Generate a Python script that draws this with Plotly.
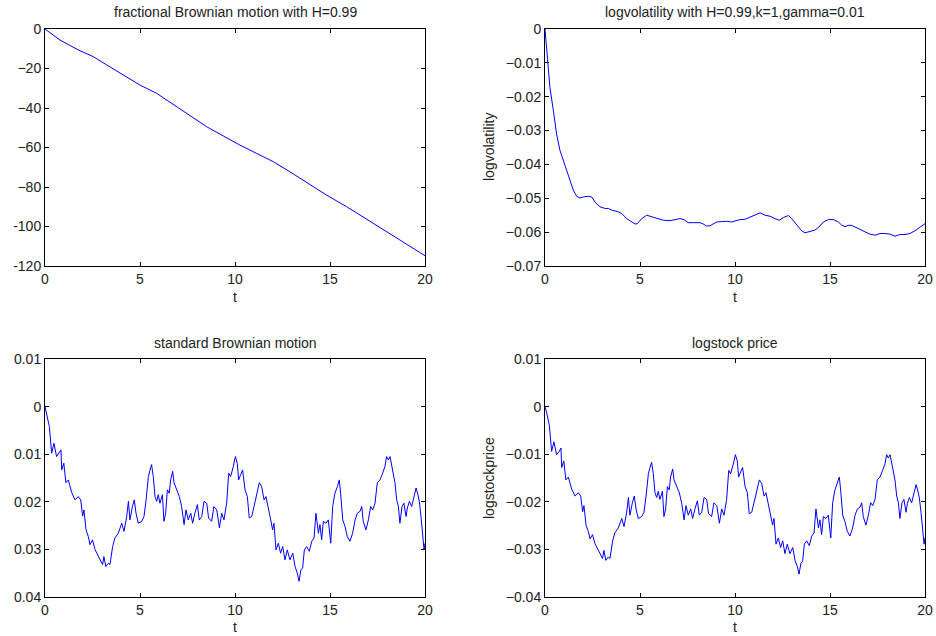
import plotly.graph_objects as go

# ---------------- data ----------------
fbm_t = [0, 0.79, 1.75, 2.54, 3.25, 4.12, 5.0, 5.88, 6.75, 7.63, 8.51, 9.39, 10.26,
         11.14, 12.02, 12.89, 13.77, 14.82, 15.88, 16.58, 17.28, 18.16, 19.04, 20.0]
fbm_v = [0, -5.6, -10.6, -14.0, -18.2, -23.3, -28.4, -32.6, -38.2, -43.9, -49.5,
         -54.2, -58.8, -63.0, -67.2, -72.3, -77.7, -84.1, -90.0, -94.2, -98.4,
         -103.5, -108.9, -114.8]

vol_t = [0, 0.05, 0.12, 0.26, 0.44, 0.61, 0.79, 0.96, 1.14, 1.32, 1.49, 1.67, 1.84,
         2.02, 2.28, 2.46, 2.63, 2.89, 3.16, 3.33, 3.51, 3.86, 4.04, 4.3, 4.56, 4.74,
         4.86, 5.09, 5.35, 5.61, 5.88, 6.23, 6.58, 6.84, 7.11, 7.32, 7.54, 7.81, 8.16,
         8.33, 8.51, 8.68, 8.86, 9.04, 9.3, 9.56, 9.82, 10.0, 10.26, 10.53, 10.79,
         11.05, 11.32, 11.58, 11.84, 12.11, 12.33, 12.54, 12.81, 12.98, 13.25, 13.51,
         13.68, 13.95, 14.21, 14.47, 14.65, 14.91, 15.18, 15.44, 15.61, 15.79, 15.96,
         16.14, 16.32, 16.58, 16.84, 17.11, 17.37, 17.63, 17.89, 18.16, 18.42, 18.68,
         18.95, 19.21, 19.47, 19.74, 20.0]
vol_v = [0, -0.0035, -0.0094, -0.0173, -0.0241, -0.031, -0.0359, -0.0388, -0.0418,
         -0.0447, -0.0476, -0.0494, -0.0499, -0.0496, -0.0494, -0.0496, -0.0511,
         -0.0525, -0.053, -0.053, -0.0535, -0.054, -0.0545, -0.056, -0.057, -0.0576,
         -0.0575, -0.056, -0.055, -0.0555, -0.056, -0.0565, -0.0566, -0.0563, -0.056,
         -0.0563, -0.0572, -0.0572, -0.0572, -0.0576, -0.0582, -0.0581, -0.0576,
         -0.057, -0.0569, -0.0568, -0.057, -0.0567, -0.0563, -0.0562, -0.0555, -0.055,
         -0.0543, -0.055, -0.0553, -0.056, -0.0565, -0.0557, -0.0551, -0.056, -0.0579,
         -0.0596, -0.0602, -0.0599, -0.0594, -0.0582, -0.057, -0.0563, -0.0563,
         -0.057, -0.0579, -0.0584, -0.058, -0.058, -0.0584, -0.0592, -0.0599, -0.0606,
         -0.0609, -0.0604, -0.0604, -0.0606, -0.0612, -0.0607, -0.0607, -0.0604,
         -0.0596, -0.0586, -0.0575]

bm_t = [0, 0.09, 0.23, 0.35, 0.47, 0.61, 0.75, 0.84, 0.88, 0.99, 1.10, 1.23, 1.40,
        1.58, 1.75, 1.88, 1.98, 2.05, 2.16, 2.28, 2.37, 2.50, 2.63, 2.75, 2.90, 3.03,
        3.10, 3.20, 3.33, 3.42, 3.56, 3.68, 3.86, 4.04, 4.16, 4.30, 4.39, 4.47, 4.60,
        4.70, 4.79, 4.91, 5.09, 5.21, 5.32, 5.44, 5.53, 5.61, 5.70, 5.79, 5.88, 5.96,
        6.05, 6.18, 6.26, 6.35, 6.44, 6.54, 6.61, 6.72, 6.79, 6.93, 7.07, 7.19, 7.32,
        7.42, 7.54, 7.67, 7.77, 7.89, 8.02, 8.12, 8.25, 8.37, 8.51, 8.61, 8.77, 8.89,
        9.04, 9.18, 9.30, 9.42, 9.56, 9.67, 9.77, 9.91, 10.02, 10.12, 10.19, 10.30,
        10.40, 10.53, 10.65, 10.75, 10.88, 11.00, 11.14, 11.28, 11.40, 11.53, 11.63,
        11.75, 11.88, 11.98, 12.05, 12.16, 12.28, 12.40, 12.51, 12.63, 12.75, 12.89,
        13.04, 13.16, 13.28, 13.37, 13.47, 13.56, 13.65, 13.77, 13.91, 14.04, 14.16,
        14.26, 14.39, 14.47, 14.56, 14.65, 14.79, 14.91, 15.04, 15.14, 15.26, 15.39,
        15.49, 15.56, 15.67, 15.79, 15.91, 16.05, 16.19, 16.32, 16.44, 16.58, 16.67,
        16.75, 16.89, 17.02, 17.14, 17.25, 17.37, 17.49, 17.63, 17.77, 17.89, 17.98,
        18.07, 18.16, 18.25, 18.33, 18.42, 18.51, 18.60, 18.68, 18.79, 18.89, 19.00,
        19.07, 19.18, 19.30, 19.42, 19.53, 19.61, 19.70, 19.79, 19.88, 19.95, 20.00]
bm_v = [0.0, -0.0014, -0.0042, -0.0098, -0.0077, -0.0105, -0.0098, -0.0091, -0.0133,
        -0.0119, -0.0160, -0.0154, -0.0180, -0.0196, -0.0189, -0.0196, -0.0230,
        -0.0217, -0.0259, -0.0273, -0.0290, -0.0280, -0.0300, -0.0310, -0.0320,
        -0.0332, -0.0315, -0.0336, -0.0329, -0.0332, -0.0294, -0.0276, -0.0266,
        -0.0245, -0.0262, -0.0231, -0.0199, -0.0238, -0.0210, -0.0196, -0.0224,
        -0.0245, -0.0241, -0.0231, -0.0196, -0.0147, -0.0133, -0.0122, -0.0147,
        -0.0189, -0.0199, -0.0185, -0.0203, -0.0185, -0.0241, -0.0224, -0.0175,
        -0.0182, -0.0154, -0.0136, -0.0160, -0.0175, -0.0189, -0.0210, -0.0248,
        -0.0217, -0.0238, -0.0224, -0.0245, -0.0224, -0.0206, -0.0238, -0.0231,
        -0.0199, -0.0203, -0.0234, -0.0241, -0.0210, -0.0217, -0.0255, -0.0224,
        -0.0238, -0.0203, -0.0140, -0.0147, -0.0126, -0.0105, -0.0119, -0.0154,
        -0.0143, -0.0133, -0.0175, -0.0189, -0.0234, -0.0231, -0.0210, -0.0182,
        -0.0160, -0.0168, -0.0196, -0.0189, -0.0210, -0.0238, -0.0259, -0.0245,
        -0.0301, -0.0287, -0.0308, -0.0294, -0.0322, -0.0301, -0.0322, -0.0308,
        -0.0336, -0.0350, -0.0367, -0.0343, -0.0339, -0.0301, -0.0294, -0.0304,
        -0.0283, -0.0276, -0.0224, -0.0266, -0.0248, -0.0280, -0.0241, -0.0245,
        -0.0238, -0.0287, -0.0210, -0.0182, -0.0168, -0.0154, -0.0182, -0.0238,
        -0.0252, -0.0273, -0.0283, -0.0266, -0.0238, -0.0224, -0.0220, -0.0210,
        -0.0241, -0.0259, -0.0238, -0.0210, -0.0217, -0.0203, -0.0160, -0.0154,
        -0.0140, -0.0126, -0.0105, -0.0112, -0.0105, -0.0126, -0.0147, -0.0160,
        -0.0196, -0.0210, -0.0245, -0.0210, -0.0203, -0.0231, -0.0213, -0.0199,
        -0.0210, -0.0189, -0.0171, -0.0182, -0.0199, -0.0231, -0.0273, -0.0301,
        -0.0287]

ls_t = bm_t
ls_v = [0.0, -0.0013, -0.0040, -0.0094, -0.0074, -0.0101, -0.0094, -0.0087, -0.0128,
        -0.0114, -0.0154, -0.0148, -0.0173, -0.0188, -0.0181, -0.0188, -0.0221,
        -0.0208, -0.0249, -0.0262, -0.0278, -0.0269, -0.0288, -0.0298, -0.0307,
        -0.0319, -0.0302, -0.0323, -0.0316, -0.0319, -0.0282, -0.0265, -0.0255,
        -0.0235, -0.0252, -0.0222, -0.0191, -0.0228, -0.0202, -0.0188, -0.0215,
        -0.0235, -0.0231, -0.0222, -0.0188, -0.0141, -0.0128, -0.0117, -0.0141,
        -0.0181, -0.0191, -0.0178, -0.0195, -0.0178, -0.0231, -0.0215, -0.0168,
        -0.0175, -0.0148, -0.0131, -0.0154, -0.0168, -0.0181, -0.0202, -0.0238,
        -0.0208, -0.0228, -0.0215, -0.0235, -0.0215, -0.0198, -0.0228, -0.0222,
        -0.0191, -0.0195, -0.0225, -0.0231, -0.0202, -0.0208, -0.0245, -0.0215,
        -0.0228, -0.0195, -0.0134, -0.0141, -0.0121, -0.0101, -0.0114, -0.0148,
        -0.0137, -0.0128, -0.0168, -0.0181, -0.0225, -0.0222, -0.0202, -0.0175,
        -0.0154, -0.0161, -0.0188, -0.0181, -0.0202, -0.0228, -0.0249, -0.0235,
        -0.0289, -0.0276, -0.0296, -0.0282, -0.0309, -0.0289, -0.0309, -0.0296,
        -0.0323, -0.0336, -0.0352, -0.0329, -0.0325, -0.0289, -0.0282, -0.0292,
        -0.0272, -0.0265, -0.0215, -0.0255, -0.0238, -0.0269, -0.0231, -0.0235,
        -0.0228, -0.0276, -0.0202, -0.0175, -0.0161, -0.0148, -0.0175, -0.0228,
        -0.0242, -0.0262, -0.0272, -0.0255, -0.0228, -0.0215, -0.0211, -0.0202,
        -0.0231, -0.0249, -0.0228, -0.0202, -0.0208, -0.0195, -0.0154, -0.0148,
        -0.0134, -0.0121, -0.0101, -0.0108, -0.0101, -0.0121, -0.0141, -0.0154,
        -0.0188, -0.0202, -0.0235, -0.0202, -0.0195, -0.0222, -0.0204, -0.0191,
        -0.0202, -0.0181, -0.0164, -0.0175, -0.0191, -0.0222, -0.0262, -0.0289,
        -0.0276]

x_ticks = [0, 5, 10, 15, 20]
fbm_ticks = [0, -20, -40, -60, -80, -100, -120]
fbm_ticktext = ["0", "\u221220", "\u221240", "\u221260", "\u221280", "-100", "-120"]
vol_ticks = [0, -0.01, -0.02, -0.03, -0.04, -0.05, -0.06, -0.07]
vol_ticktext = ["0", "\u22120.01", "\u22120.02", "\u22120.03", "\u22120.04",
                "\u22120.05", "\u22120.06", "\u22120.07"]
bm_ticks = [0.01, 0, -0.01, -0.02, -0.03, -0.04]
bm_ticktext = ["0.01", "0", "0.01", "0.02", "0.03", "0.04"]
ls_ticktext = ["0.01", "0", "\u22120.01", "\u22120.02", "\u22120.03", "\u22120.04"]

titles = ["fractional Brownian motion with H=0.99",
          "logvolatility with H=0.99,k=1,gamma=0.01",
          "standard Brownian motion",
          "logstock price"]

# ---------------- figure ----------------
W, H = 936, 636
FONT = "Liberation Sans, Arial, sans-serif"
TXT = "#222222"
LINE = "#0000ff"

fig = go.Figure()
panels = [
    (fbm_t, fbm_v, "x", "y"),
    (vol_t, vol_v, "x2", "y2"),
    (bm_t, bm_v, "x3", "y3"),
    (ls_t, ls_v, "x4", "y4"),
]
for tx, vy, xa, ya in panels:
    fig.add_trace(go.Scatter(x=tx, y=vy, mode="lines", xaxis=xa, yaxis=ya,
                             line=dict(color=LINE, width=1), showlegend=False,
                             hoverinfo="skip"))

def px_x(p):
    return p / W

def px_y(p):
    return 1 - p / H

xdom_l = [px_x(45), px_x(425)]
xdom_r = [px_x(545), px_x(925)]
ydom_t = [px_y(266), px_y(29)]
ydom_b = [px_y(597), px_y(359)]

common = dict(showline=True, linecolor="black", linewidth=1, mirror="ticks",
              ticks="inside", ticklen=4, tickcolor="black", showgrid=False,
              zeroline=False, automargin=False,
              tickfont=dict(family=FONT, size=14, color=TXT))

def xax(dom, anchor):
    return dict(domain=dom, anchor=anchor, range=[0, 20], tickvals=x_ticks,
                ticktext=[str(v) for v in x_ticks], **common)

def yax(dom, anchor, rng, tv, tt):
    return dict(domain=dom, anchor=anchor, range=rng, tickvals=tv, ticktext=tt,
                **common)

fig.update_layout(
    width=W, height=H,
    margin=dict(l=0, r=0, t=0, b=0),
    paper_bgcolor="white", plot_bgcolor="white",
    font=dict(family=FONT, size=14, color=TXT),
    xaxis=xax(xdom_l, "y"),
    yaxis=yax(ydom_t, "x", [-120, 0], fbm_ticks, fbm_ticktext),
    xaxis2=xax(xdom_r, "y2"),
    yaxis2=yax(ydom_t, "x2", [-0.07, 0], vol_ticks, vol_ticktext),
    xaxis3=xax(xdom_l, "y3"),
    yaxis3=yax(ydom_b, "x3", [-0.04, 0.01], bm_ticks, bm_ticktext),
    xaxis4=xax(xdom_r, "y4"),
    yaxis4=yax(ydom_b, "x4", [-0.04, 0.01], bm_ticks, ls_ticktext),
)

ann = []
title_pos = [((45 + 425) / 2, 12), ((545 + 925) / 2, 12),
             ((45 + 425) / 2, 343), ((545 + 925) / 2, 343)]
for txt, (cx, cy) in zip(titles, title_pos):
    ann.append(dict(text=txt, x=px_x(cx), y=px_y(cy), xref="paper", yref="paper",
                    showarrow=False, xanchor="center", yanchor="middle",
                    font=dict(family=FONT, size=14, color=TXT)))
for cx, cy in [(235, 297), (735, 297), (235, 627), (735, 627)]:
    ann.append(dict(text="t", x=px_x(cx), y=px_y(cy), xref="paper", yref="paper",
                    showarrow=False, xanchor="center", yanchor="middle",
                    font=dict(family=FONT, size=14, color=TXT)))
for txt, cy in [("logvolatility", 147), ("logstockprice", 478)]:
    ann.append(dict(text=txt, x=px_x(489), y=px_y(cy), xref="paper", yref="paper",
                    showarrow=False, xanchor="center", yanchor="middle",
                    textangle=-90, font=dict(family=FONT, size=14, color=TXT)))
fig.update_layout(annotations=ann)

fig.write_html(
    "out.html",
    config={"displayModeBar": False, "staticPlot": True},
    post_script="document.body.style.margin='0';"
                "document.body.style.overflow='hidden';",
)
